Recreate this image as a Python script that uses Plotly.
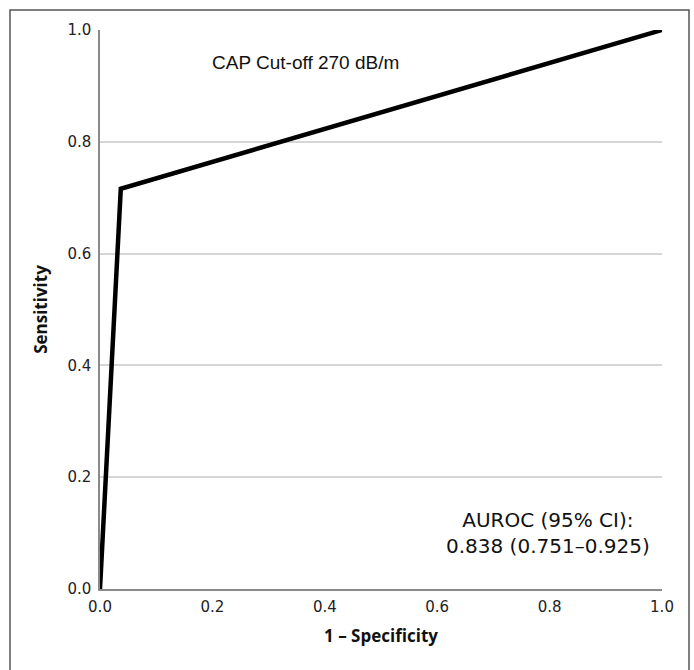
import plotly.graph_objects as go

# ROC curve data
fpr = [0.0, 0.037, 1.0]
tpr = [0.0, 0.716, 1.0]
tick_vals = [0.0, 0.2, 0.4, 0.6, 0.8, 1.0]
tick_text = ["0.0", "0.2", "0.4", "0.6", "0.8", "1.0"]
title_text = "CAP Cut-off 270 dB/m"
auroc_text = "AUROC (95% CI):<br>0.838 (0.751–0.925)"

fig = go.Figure()
fig.add_trace(go.Scatter(x=fpr, y=tpr, mode="lines",
                         line=dict(color="black", width=4.5),
                         showlegend=False, hoverinfo="skip"))

tick_font = dict(family="DejaVu Sans", size=15, color="#222")
fig.update_xaxes(range=[0, 1], tickvals=tick_vals, ticktext=tick_text,
                 showgrid=False, zeroline=False, showline=True,
                 linecolor="#8a8a8a", linewidth=1.5, ticks="",
                 tickfont=tick_font, ticklabelstandoff=3,
                 title=dict(text="<b>1 – Specificity</b>",
                            font=dict(family="Open Sans", size=17, color="#111"),
                            standoff=15))
fig.update_yaxes(range=[0, 1], tickvals=tick_vals, ticktext=tick_text,
                 showgrid=True, gridcolor="#d6d6d6", gridwidth=1.5,
                 zeroline=False, showline=True,
                 linecolor="#8a8a8a", linewidth=1.5, ticks="",
                 tickfont=tick_font, ticklabelstandoff=4,
                 title=dict(text="<b>Sensitivity</b>",
                            font=dict(family="Open Sans", size=17, color="#111"),
                            standoff=15))

fig.add_annotation(x=0.365, y=0.941, xref="x", yref="y", text=title_text,
                   showarrow=False,
                   font=dict(family="Liberation Sans", size=19, color="#111"))
fig.add_annotation(x=0.797, y=0.10, xref="x", yref="y", text=auroc_text,
                   showarrow=False, align="center",
                   font=dict(family="DejaVu Sans", size=20, color="#111"))

# outer frame, open at the bottom
W, H = 694, 670
L, R, T, B = 100, 32, 30, 81
pw, ph = W - L - R, H - T - B
def px(x):
    return (x - L) / pw
def py(y):
    return (H - B - y) / ph
xl, xr, yt, yb = px(10), px(689), py(10), py(700)
fig.add_shape(type="path", xref="paper", yref="paper",
              path=f"M {xl},{yb} L {xl},{yt} L {xr},{yt} L {xr},{yb}",
              line=dict(color="#555", width=1.5))

fig.update_layout(width=W, height=H, margin=dict(l=L, r=R, t=T, b=B),
                  plot_bgcolor="white", paper_bgcolor="white")
fig.write_html("out.html", config={"displayModeBar": False},
               post_script="document.body.style.margin='0';document.body.style.overflow='hidden';")
